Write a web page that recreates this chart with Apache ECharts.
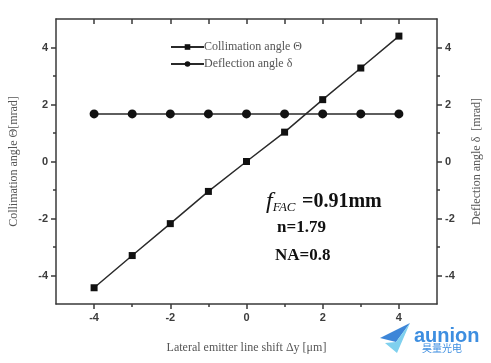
<!DOCTYPE html>
<html><head><meta charset="utf-8">
<script src="https://cdn.jsdelivr.net/npm/echarts@6/dist/echarts.min.js"></script>
<style>html,body{margin:0;padding:0;background:#fff}#c{width:491px;height:363px}</style>
</head><body><div id="c"></div>
<script>
const shiftX = [-4, -3, -2, -1, 0, 1, 2, 3, 4];
const collimation = [-4.43, -3.30, -2.18, -1.05, 0.0, 1.03, 2.17, 3.28, 4.40];
const deflection = [1.67, 1.67, 1.67, 1.67, 1.67, 1.67, 1.67, 1.67, 1.67];
const majorTicks = [-4, -2, 0, 2, 4];
const minorTicks = [-3, -1, 1, 3];
const topTicks = [-4, -3, -2, -1, 0, 1, 2, 3, 4];
const seriesNames = ['Collimation angle \u0398', 'Deflection angle \u03b4'];

const chart = echarts.init(document.getElementById('c'));
const lineCol = '#3a3a3a';
const lblStyle = {fontFamily: 'Liberation Sans, Arial', fontWeight: 'bold', fontSize: 11, color: '#3c3c3c'};
const nameStyle = {fontFamily: 'Liberation Serif, Times New Roman', fontSize: 12, color: '#555'};
const grid = {left: 55, top: 19, width: 383, height: 285};

function ax(extra) {
  return Object.assign({type: 'value', min: -5, max: 5, gridIndex: 0,
    splitLine: {show: false},
    axisLine: {show: true, onZero: false, lineStyle: {color: lineCol, width: 1.5}}}, extra);
}
const hiddenLine = {show: false, onZero: false};

chart.setOption({
  animation: false,
  backgroundColor: '#fff',
  grid: grid,
  legend: {
    orient: 'vertical', left: 165, top: 36, itemWidth: 33, itemHeight: 7, itemGap: 5,
    textStyle: {fontFamily: 'Liberation Serif, Times New Roman', fontSize: 12, color: '#555', padding: [0,0,0,-5]},
    data: seriesNames
  },
  xAxis: [
    ax({position: 'bottom', name: 'Lateral emitter line shift \u0394y [\u03bcm]', nameLocation: 'middle', nameGap: 38,
      nameTextStyle: nameStyle,
      axisTick: {show: true, length: 5, customValues: majorTicks, lineStyle: {color: lineCol, width: 1.5}},
      axisLabel: Object.assign({margin: 8, customValues: majorTicks}, lblStyle)}),
    ax({position: 'bottom', axisLine: hiddenLine,
      axisTick: {show: true, length: 3, customValues: minorTicks, lineStyle: {color: lineCol, width: 1.5}},
      axisLabel: {show: false}}),
    ax({position: 'top',
      axisTick: {show: true, inside: true, length: 5, customValues: topTicks, lineStyle: {color: lineCol, width: 1.5}},
      axisLabel: {show: false}})
  ],
  yAxis: [
    ax({position: 'left', name: 'Collimation angle \u0398[mrad]', nameLocation: 'middle', nameGap: 36,
      nameTextStyle: nameStyle,
      axisTick: {show: true, length: 5, customValues: majorTicks, lineStyle: {color: lineCol, width: 1.5}},
      axisLabel: Object.assign({margin: 8, customValues: majorTicks}, lblStyle)}),
    ax({position: 'left', axisLine: hiddenLine,
      axisTick: {show: true, length: 3, customValues: minorTicks, lineStyle: {color: lineCol, width: 1.5}},
      axisLabel: {show: false}}),
    ax({position: 'right', name: 'Deflection angle \u03b4  [mrad]', nameLocation: 'middle', nameGap: 34, nameRotate: 90,
      nameTextStyle: nameStyle,
      axisTick: {show: true, length: 5, customValues: majorTicks, lineStyle: {color: lineCol, width: 1.5}},
      axisLabel: Object.assign({margin: 8, customValues: majorTicks}, lblStyle)}),
    ax({position: 'right', axisLine: hiddenLine,
      axisTick: {show: true, length: 3, customValues: minorTicks, lineStyle: {color: lineCol, width: 1.5}},
      axisLabel: {show: false}})
  ],
  series: [
    {name: seriesNames[0], type: 'line', xAxisIndex: 0, yAxisIndex: 0,
      data: shiftX.map((x, i) => [x, collimation[i]]),
      symbol: 'rect', symbolSize: 7, color: '#1a1a1a',
      lineStyle: {color: '#2a2a2a', width: 1.5}, itemStyle: {color: '#111'}},
    {name: seriesNames[1], type: 'line', xAxisIndex: 0, yAxisIndex: 2,
      data: shiftX.map((x, i) => [x, deflection[i]]),
      symbol: 'circle', symbolSize: 9, color: '#1a1a1a',
      lineStyle: {color: '#2a2a2a', width: 1.5}, itemStyle: {color: '#111'}}
  ],
  graphic: [
    {type: 'text', left: 266, top: 190, style: {
      rich: {
        f: {fontFamily: 'Liberation Serif', fontStyle: 'italic', fontSize: 24, fill: '#111'},
        s: {fontFamily: 'Liberation Serif', fontStyle: 'italic', fontSize: 13, fill: '#111', verticalAlign: 'bottom', padding: [10,0,0,0]},
        v: {fontFamily: 'Liberation Serif', fontWeight: 'bold', fontSize: 20, fill: '#111'}
      },
      text: '{f|f}{s|FAC  }{v|=0.91mm}'
    }},
    {type: 'text', left: 277, top: 219, style: {text: 'n=1.79', fontFamily: 'Liberation Serif', fontWeight: 'bold', fontSize: 17, fill: '#111'}},
    {type: 'text', left: 275, top: 247, style: {text: 'NA=0.8', fontFamily: 'Liberation Serif', fontWeight: 'bold', fontSize: 17, fill: '#111'}},
    {type: 'polygon', shape: {points: [[380,338],[410,323],[396,342]]}, style: {fill: '#3d86d8'}},
    {type: 'polygon', shape: {points: [[385,343],[396,342],[410,323],[397,353]]}, style: {fill: '#7fd0ee'}},
    {type: 'text', left: 414, top: 326, style: {text: 'aunion', fontFamily: 'Liberation Sans, Arial', fontWeight: 'bold', fontSize: 20, fill: '#3d8ee0'}},
    {type: 'text', left: 422, top: 343, style: {text: '\u660a\u91cf\u5149\u7535', fontFamily: 'Noto Sans CJK SC', fontSize: 10, fill: '#3d8ee0'}}
  ]
});
</script></body></html>
